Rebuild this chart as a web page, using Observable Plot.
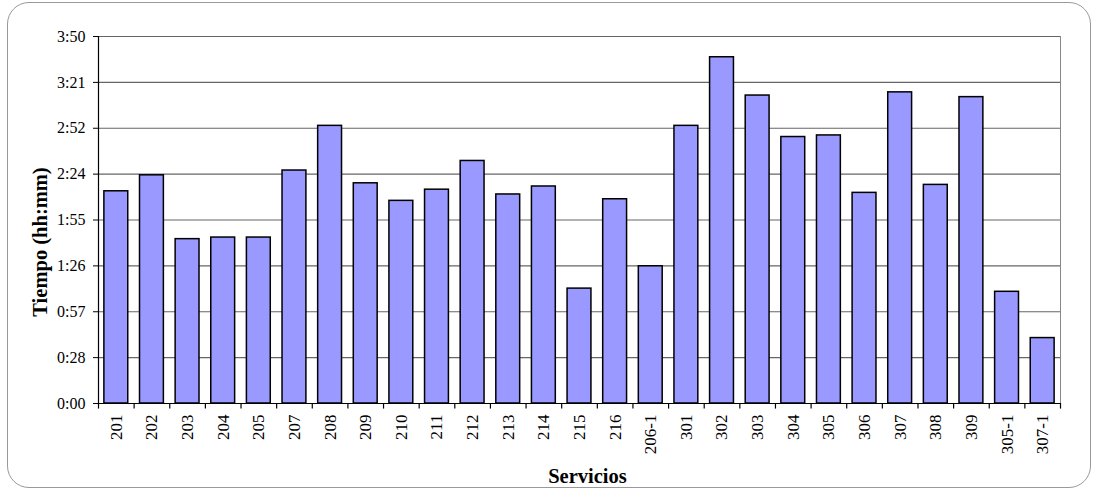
<!DOCTYPE html>
<html>
<head>
<meta charset="utf-8">
<script src="https://cdn.jsdelivr.net/npm/d3@7"></script>
<script src="https://cdn.jsdelivr.net/npm/@observablehq/plot@0.6"></script>
<style>
  html, body { margin: 0; padding: 0; background: #fff; }
  #wrap { position: relative; width: 1094px; height: 493px; overflow: hidden; }
  #border { position: absolute; left: 7px; top: 2px; width: 1084px; height: 486px;
            border: 1px solid #999; border-radius: 22px; box-sizing: border-box; }
  #chart { position: absolute; left: 0; top: 0; }
  #chart svg g[aria-label="x-axis tick label"] { font-size: 17px; }
</style>
</head>
<body>
<div id="wrap"><div id="border"></div><div id="chart"></div></div>
<script>
const categories = ["201","202","203","204","205","207","208","209","210","211","212","213","214","215","216","206-1",
  "301","302","303","304","305","306","307","308","309","305-1","307-1"];
// durations in minutes
const minutes = [133,143,103,104,104,146,174,138,127,134,152,131,136,72,128,86,
  174,217,193,167,168,132,195,137,192,70,41];
const yTickValues = [0, 28.75, 57.5, 86.25, 115, 143.75, 172.5, 201.25, 230];
const yTickLabels = ["0:00","0:28","0:57","1:26","1:55","2:24","2:52","3:21","3:50"];

const data = categories.map((c, i) => ({servicio: c, min: minutes[i]}));

const W = 1094, H = 493, ML = 98, MR = 34, MT = 36, MB = 90;
const step = (W - ML - MR) / categories.length;

const chart = Plot.plot({
  width: W, height: H,
  marginLeft: ML, marginRight: MR, marginTop: MT, marginBottom: MB,
  style: {fontFamily: "'Liberation Serif', 'Times New Roman', serif", fontSize: "16px", color: "#000", background: "transparent"},
  x: {domain: categories, paddingInner: 0.33, paddingOuter: 0.165, align: 0.5, round: false, label: null},
  y: {domain: [0, 230], label: null},
  marks: [
    Plot.frame({stroke: "#888"}),
    Plot.ruleY(yTickValues, {stroke: "#666", strokeWidth: 1.2}),
    Plot.barY(data, {x: "servicio", y: "min", fill: "#9999FF", stroke: "#000", strokeWidth: 1.5}),
    Plot.ruleY([0], {stroke: "#000", strokeWidth: 1.2}),
    Plot.ruleX([categories[0]], {dx: -step / 2, stroke: "#000", strokeWidth: 1.2}),
    Plot.ruleX(categories, {x: d => d, dx: -step / 2, y1: 0, y2: -3.5, stroke: "#000", strokeWidth: 1.2}),
    Plot.ruleX([categories[categories.length - 1]], {x: d => d, dx: step / 2, y1: 0, y2: -3.5, stroke: "#000", strokeWidth: 1.2}),
    Plot.axisY({ticks: yTickValues, tickFormat: (d, i) => yTickLabels[i], tickSize: 5, tickPadding: 8, stroke: "#000", fontSize: 16, label: null}),
    Plot.axisX({tickRotate: -90, tickSize: 0, tickPadding: 11, fontSize: 17, label: null}),
    Plot.text(["Tiempo (hh:mm)"], {frameAnchor: "left", textAnchor: "middle", dx: -58, dy: 22, rotate: -90, fontWeight: "bold", fontSize: 20.5}),
    Plot.text(["Servicios"], {frameAnchor: "bottom", dy: 79, dx: 8, fontWeight: "bold", fontSize: 20.5})
  ]
});
document.getElementById("chart").appendChild(chart);
</script>
</body>
</html>
